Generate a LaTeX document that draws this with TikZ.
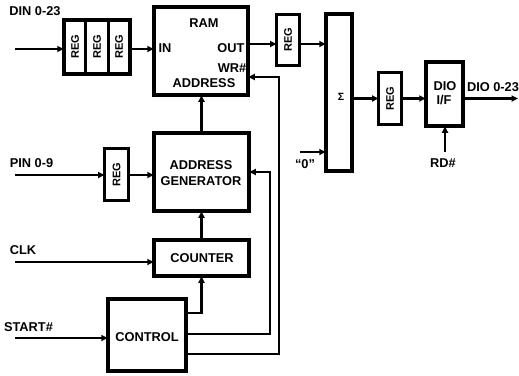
\documentclass[tikz,border=0pt]{standalone}
\usepackage{fontspec}
\setmainfont{Liberation Sans}
\usetikzlibrary{arrows.meta}
\begin{document}
\begin{tikzpicture}[x=1pt,y=-1pt,
  box/.style={draw,line width=3.8pt,inner sep=0pt,outer sep=0pt},
  lbl/.style={font=\bfseries\fontsize{12.8}{14}\selectfont,inner sep=0pt},
  reglbl/.style={font=\bfseries\fontsize{11}{12}\selectfont,rotate=90,inner sep=0pt},
  arr/.style={line width=2.3pt,-{Triangle[length=6.5pt,width=6pt]}},
  fbarr/.style={line width=1.8pt,-{Triangle[length=6.5pt,width=6pt]}}]
\useasboundingbox (0,0) rectangle (519,375);

% boxes
\node[box,minimum width=94.5pt,minimum height=88.5pt] (ram) at (201,51) {};
\node[box,minimum width=66.5pt,minimum height=54.5pt] (reg3) at (97,47) {};
\draw[line width=3.8pt] (85.5,18) -- (85.5,76) (108.5,18) -- (108.5,76);
\node[box,line width=3.2pt,minimum width=23pt,minimum height=51pt] (rego) at (288,40) {};
\node[box,minimum width=26.5pt,minimum height=157.5pt] (sig) at (339,92.5) {};
\node[box,line width=3.2pt,minimum width=23pt,minimum height=52pt] (reg2) at (390,98.5) {};
\node[box,minimum width=37.5pt,minimum height=64.5pt] (dio) at (444.5,94) {};
\node[box,line width=3.2pt,minimum width=24pt,minimum height=52pt] (regp) at (116.5,174.5) {};
\node[box,minimum width=95.5pt,minimum height=78.5pt] (ag) at (201.5,172) {};
\node[box,minimum width=95.5pt,minimum height=36.5pt] (cnt) at (201.5,258) {};
\node[box,minimum width=78.5pt,minimum height=72.5pt] (ctl) at (147,335) {};

% box texts
\node[lbl] (tram) at (204,23) {RAM};
\node[lbl] (tin) at (165,48) {IN};
\node[lbl] (tout) at (231,48) {OUT};
\node[lbl] (twr) at (232,68) {WR\#};
\node[lbl] (tadr) at (204,83) {ADDRESS};
\node[reglbl] (r1) at (75,47) {REG};
\node[reglbl] (r2) at (97,47) {REG};
\node[reglbl] (r3) at (119,47) {REG};
\node[reglbl] (r4) at (rego) {REG};
\node[reglbl] (r5) at (reg2) {REG};
\node[reglbl] (r6) at (regp) {REG};
\node[font=\bfseries\fontsize{10.5}{11}\selectfont,inner sep=0pt] (tsig) at (341,97) {Σ};
\node[lbl] (tdio) at (445,86) {DIO};
\node[lbl] (tif) at (444,100) {I/F};
\node[lbl,align=center] (tag) at (201,173.5) {ADDRESS\\[2pt]GENERATOR};
\node[lbl] (tcnt) at (202,258) {COUNTER};
\node[lbl] (tctl) at (147,337) {CONTROL};

% outside labels
\node[lbl] (ldin) at (35,11) {DIN 0-23};
\node[lbl] (lpin) at (31.5,163) {PIN 0-9};
\node[lbl] (lclk) at (23,250) {CLK};
\node[lbl] (lst) at (28.5,327) {START\#};
\node[lbl] (lzero) at (305,164) {``0''};
\node[lbl] (lrd) at (443,163) {RD\#};
\node[lbl] (ldout) at (493,87) {DIO 0-23};

% free ends
\coordinate (din) at (15,49);
\coordinate (pin) at (15,175);
\coordinate (clk) at (15,262);
\coordinate (st) at (15,338);
\coordinate (zero) at (300,152);
\coordinate (rd) at (445,152);
\coordinate (dout) at (518,98.5);

% connectors
\draw[arr] (din) -- (din -| reg3.west);
\draw[arr] (reg3.east |- din) -- (din -| ram.west);
\draw[arr] (ram.east |- 0,44) -- (rego.west |- 0,44);
\draw[arr] (rego.east |- 0,44) -- (sig.west |- 0,44);
\draw[arr] (sig.east |- reg2) -- (reg2.west);
\draw[arr] (reg2.east) -- (dio.west |- reg2);
\draw[arr] (dio.east |- reg2) -- (dout);
\draw[arr] (zero) -- (zero -| sig.west);
\draw[arr] (rd) -- (rd |- dio.south);
\draw[arr] (pin) -- (pin -| regp.west);
\draw[arr] (regp.east |- pin) -- (pin -| ag.west);
\draw[arr] (ag.north) -- (ag.north |- ram.south);
\draw[arr] (cnt.north) -- (ag.south);
\draw[arr] (clk) -- (clk -| cnt.west);
\draw[arr] (st) -- (st -| ctl.west);
\draw[arr] (ctl.east |- 0,313) -| (cnt.south);
\draw[fbarr] (ctl.east |- 0,334) -| (270,172) -- (ag.east |- 0,172);
\draw[fbarr] (ctl.east |- 0,354) -| (279,77) -- (ram.east |- 0,77);
\end{tikzpicture}
\end{document}
